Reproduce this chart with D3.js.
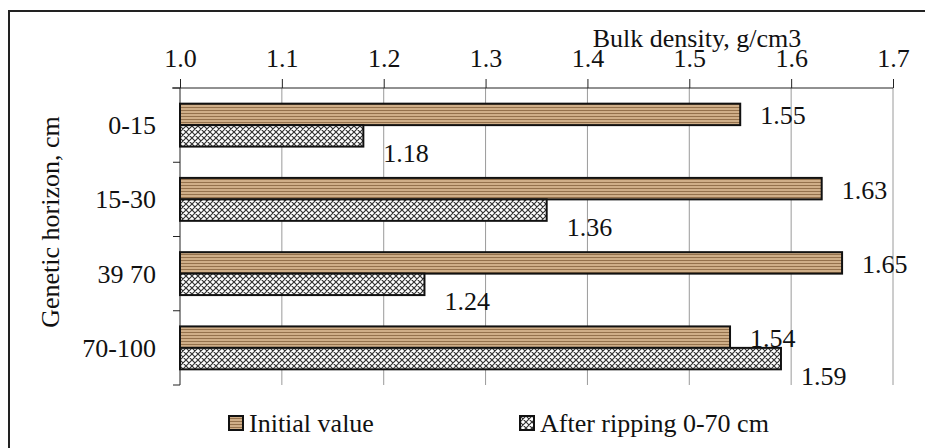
<!DOCTYPE html>
<meta charset="utf-8">
<style>
  body { margin: 0; background: #fff; }
  text { font-family: 'Liberation Serif', 'Times New Roman', serif; fill: #111; }
  .grid { stroke: #9a9a9a; stroke-width: 1px; }
</style>
<body>
<script src="https://d3js.org/d3.v7.min.js"></script>
<script>

// data
var horizons = ["0-15", "15-30", "39 70", "70-100"];
var series = ["Initial value", "After ripping 0-70 cm"];
var initialValue = [1.55, 1.63, 1.65, 1.54];
var afterRipping = [1.18, 1.36, 1.24, 1.59];
var xTicks = [1.0, 1.1, 1.2, 1.3, 1.4, 1.5, 1.6, 1.7];

var W = 925, H = 448;
var plotLeft = 180, plotRight = 893, plotTop = 88, plotBottom = 385;
var fontSize = "26px";

var svg = d3.select("body").append("svg")
  .attr("width", W)
  .attr("height", H);

// patterns for the two fills
var defs = svg.append("defs");
var stripes = defs.append("pattern")
  .attr("id", "stripes")
  .attr("patternUnits", "userSpaceOnUse")
  .attr("width", 4).attr("height", 3);
stripes.append("rect").attr("width", 4).attr("height", 3).attr("fill", "#cfae88");
stripes.append("rect").attr("y", 2).attr("width", 4).attr("height", 1).attr("fill", "#94714c");

var hatch = defs.append("pattern")
  .attr("id", "hatch")
  .attr("patternUnits", "userSpaceOnUse")
  .attr("width", 6).attr("height", 6);
hatch.append("rect").attr("width", 6).attr("height", 6).attr("fill", "#fff");
hatch.append("path")
  .attr("d", "M0,0L6,6M6,0L0,6M-1,5L1,7M5,-1L7,1M-1,1L1,-1M5,7L7,5")
  .attr("stroke", "#333").attr("stroke-width", 1.2);

var fills = ["url(#stripes)", "url(#hatch)"];

// outer frame (only top and left are in view)
svg.append("path")
  .attr("d", "M9," + H + "V11H" + W)
  .attr("fill", "none")
  .attr("stroke", "#222")
  .attr("stroke-width", 2);

var x = d3.scaleLinear().domain([1.0, 1.7]).range([plotLeft, plotRight]);
var y = d3.scaleBand().domain(horizons).range([plotTop, plotBottom]);
var sub = d3.scaleBand().domain(series).range([0, y.bandwidth()]).paddingOuter(0.73);

// gridlines
svg.selectAll(".grid")
  .data(xTicks.slice(1))
  .join("line")
  .attr("class", "grid")
  .attr("x1", d => x(d)).attr("x2", d => x(d))
  .attr("y1", plotTop).attr("y2", plotBottom);

// top axis
var xAxis = svg.append("g")
  .attr("transform", "translate(0," + plotTop + ")")
  .call(d3.axisTop(x).tickValues(xTicks).tickFormat(d3.format(".1f")).tickSize(9).tickSizeOuter(0).tickPadding(12));
xAxis.select(".domain").attr("stroke", "#222").attr("d", "M" + (plotLeft - 8) + ",0H" + plotRight);
xAxis.selectAll(".tick line").attr("stroke", "#222");
xAxis.selectAll("text").style("font-size", fontSize).attr("fill", "#111");

// left axis with ticks between categories
svg.append("line")
  .attr("x1", plotLeft).attr("x2", plotLeft)
  .attr("y1", plotTop).attr("y2", plotBottom)
  .attr("stroke", "#222");
svg.selectAll(".ytick")
  .data(horizons.concat(["end"]))
  .join("line")
  .attr("class", "ytick")
  .attr("x1", plotLeft - 7).attr("x2", plotLeft)
  .attr("y1", (d, i) => i < horizons.length ? y(d) : plotBottom)
  .attr("y2", (d, i) => i < horizons.length ? y(d) : plotBottom)
  .attr("stroke", "#222");

svg.selectAll(".cat")
  .data(horizons)
  .join("text")
  .attr("class", "cat")
  .attr("x", plotLeft - 24)
  .attr("y", d => y(d) + y.bandwidth() / 2)
  .attr("dy", "0.35em")
  .attr("text-anchor", "end")
  .style("font-size", fontSize)
  .text(d => d);

// bars
var rows = [];
horizons.forEach(function (h, i) {
  rows.push({ h: h, s: series[0], v: initialValue[i], k: 0 });
  rows.push({ h: h, s: series[1], v: afterRipping[i], k: 1 });
});

svg.selectAll(".bar")
  .data(rows)
  .join("rect")
  .attr("class", "bar")
  .attr("x", x(1.0))
  .attr("y", d => y(d.h) + sub(d.s))
  .attr("width", d => x(d.v) - x(1.0))
  .attr("height", sub.bandwidth())
  .attr("fill", d => fills[d.k])
  .attr("stroke", "#111")
  .attr("stroke-width", 2);

svg.selectAll(".lbl")
  .data(rows)
  .join("text")
  .attr("class", "lbl")
  .attr("x", d => x(d.v) + 20)
  .attr("y", d => y(d.h) + sub(d.s) + sub.bandwidth() / 2 + (d.k ? 17 : 1))
  .attr("dy", "0.35em")
  .style("font-size", fontSize)
  .text(d => d3.format(".2f")(d.v));

// titles
svg.append("text")
  .attr("x", 697).attr("y", 47)
  .attr("text-anchor", "middle")
  .style("font-size", fontSize)
  .text("Bulk density, g/cm3");

svg.append("text")
  .attr("transform", "translate(50,222) rotate(-90)")
  .attr("dy", "0.35em")
  .attr("text-anchor", "middle")
  .style("font-size", fontSize)
  .text("Genetic horizon, cm");

// legend
var legX = [229, 520];
var leg = svg.selectAll(".leg")
  .data(series)
  .join("g")
  .attr("class", "leg")
  .attr("transform", (d, i) => "translate(" + legX[i] + ",416)");
leg.append("rect")
  .attr("width", 14).attr("height", 14)
  .attr("fill", (d, i) => fills[i])
  .attr("stroke", "#111").attr("stroke-width", 2);
leg.append("text")
  .attr("x", 20).attr("y", 7)
  .attr("dy", "0.35em")
  .style("font-size", fontSize)
  .text(d => d);

</script>
</body>
